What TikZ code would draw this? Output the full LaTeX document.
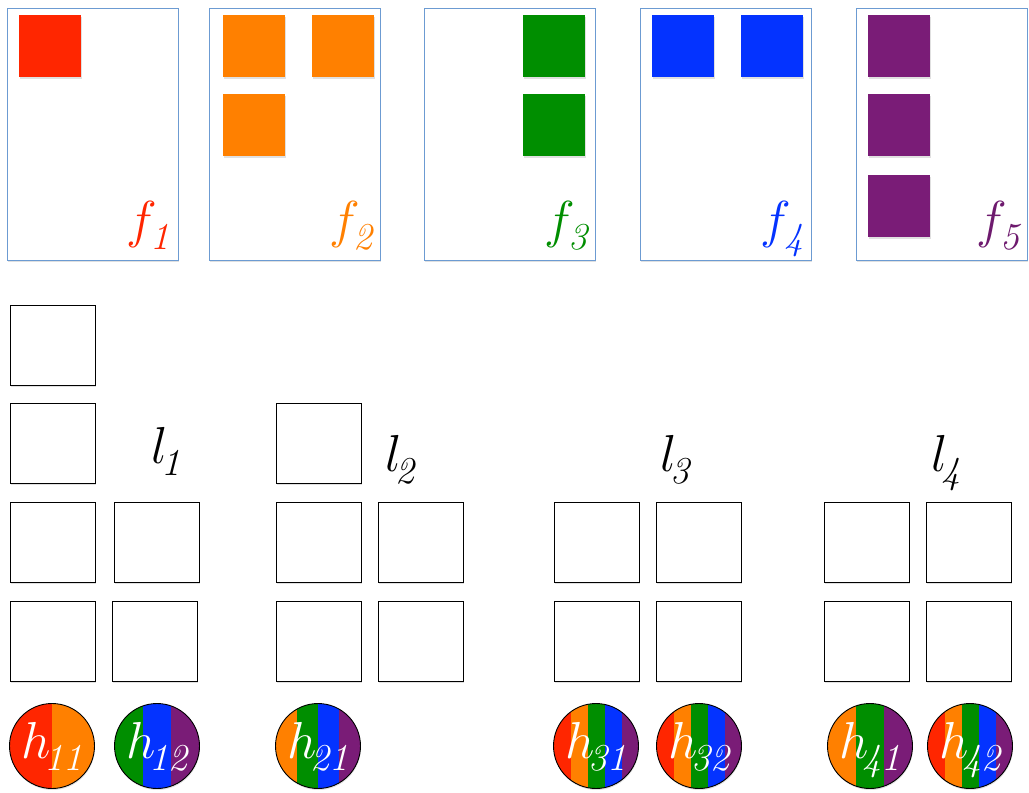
\RequirePackage{fix-cm}
\documentclass[tikz,border=0pt]{standalone}
\usetikzlibrary{shadows}
\definecolor{fred}{HTML}{FF2600}
\definecolor{forange}{HTML}{FF8000}
\definecolor{fgreen}{HTML}{008E00}
\definecolor{fblue}{HTML}{0433FF}
\definecolor{fpurple}{HTML}{7A1C77}
\definecolor{tpurple}{HTML}{6E1A6E}
\definecolor{panelblue}{HTML}{6C9BD2}
\newcommand{\lab}[2]{\fontsize{52}{52}\selectfont$#1$\kern-6pt\raisebox{-12pt}{\fontsize{38}{38}\selectfont\itshape #2}}
\tikzset{
	softshadow/.style={drop shadow={shadow xshift=0.5pt,shadow yshift=-1.5pt,fill=black,opacity=0.12}},
	panel/.style={draw=panelblue,line width=1pt,fill=white,minimum width=171pt,minimum height=252pt,inner sep=0pt,softshadow},
	tile/.style={fill=#1,minimum size=62pt,inner sep=0pt,softshadow},
	slot/.style={draw=black,line width=0.8pt,fill=white,minimum width=85pt,minimum height=80pt,inner sep=0pt,softshadow},
	hub/.style n args={2}{circle,draw=black,line width=0.9pt,minimum size=85pt,inner sep=0pt,softshadow,
		path picture={\foreach \c [count=\i] in {#2}
			\fill[\c] ([xshift={(\i-1)*85/#1}]path picture bounding box.south west) rectangle ([xshift={\i*85/#1}]path picture bounding box.north west);}},
	txt/.style={text=#1,inner sep=0pt,anchor=base west}
}
\begin{document}
\begin{tikzpicture}[x=1pt,y=-1pt]
	\useasboundingbox (0,0) rectangle (1029,793);
	\node[panel] (p1) at (92.5,134) {};
	\node[panel] (p2) at (294.5,134) {};
	\node[panel] (p3) at (509.5,134) {};
	\node[panel] (p4) at (725.5,134) {};
	\node[panel] (p5) at (941.5,134) {};
	\node[tile=fred] (r1) at (50,46) {};
	\node[tile=forange] (o1) at (254,46) {};
	\node[tile=forange] (o2) at (343,46) {};
	\node[tile=forange] (o3) at (254,125) {};
	\node[tile=fgreen] (g1) at (554,46) {};
	\node[tile=fgreen] (g2) at (554,125) {};
	\node[tile=fblue] (b1) at (683,46) {};
	\node[tile=fblue] (b2) at (772,46) {};
	\node[tile=fpurple] (v1) at (899,46) {};
	\node[tile=fpurple] (v2) at (899,125) {};
	\node[tile=fpurple] (v3) at (899,206) {};
	\node[txt=fred] (f1) at (126,237) {\lab{f}{1}};
	\node[txt=forange] (f2) at (329,237) {\lab{f}{2}};
	\node[txt=fgreen] (f3) at (544,237) {\lab{f}{3}};
	\node[txt=fblue] (f4) at (760,237) {\lab{f}{4}};
	\node[txt=tpurple] (f5) at (976,237) {\lab{f}{5}};
	\node[slot] (s11) at (52.5,345) {};
	\node[slot] (s12) at (52.5,443.5) {};
	\node[slot] (s13) at (52.5,542) {};
	\node[slot] (s14) at (52.5,641) {};
	\node[slot] (s15) at (156.5,542) {};
	\node[slot] (s16) at (154.5,641) {};
	\node[slot] (s21) at (318.5,443.5) {};
	\node[slot] (s22) at (318.5,542) {};
	\node[slot] (s23) at (318.5,641) {};
	\node[slot] (s24) at (420.5,542) {};
	\node[slot] (s25) at (420.5,641) {};
	\node[slot] (s31) at (596.5,542) {};
	\node[slot] (s32) at (596.5,641) {};
	\node[slot] (s33) at (698.5,542) {};
	\node[slot] (s34) at (698.5,641) {};
	\node[slot] (s41) at (866.5,542) {};
	\node[slot] (s42) at (866.5,641) {};
	\node[slot] (s43) at (969,542) {};
	\node[slot] (s44) at (969,641) {};
	\node[txt=black] (l1) at (151,463) {\lab{l}{1}};
	\node[txt=black] (l2) at (385,471) {\lab{l}{2}};
	\node[txt=black] (l3) at (660,471) {\lab{l}{3}};
	\node[txt=black] (l4) at (931,471) {\lab{l}{4}};
	\node[hub={2}{fred,forange}] (h11) at (52,746) {};
	\node[hub={3}{fgreen,fblue,fpurple}] (h12) at (157,746) {};
	\node[hub={4}{forange,fgreen,fblue,fpurple}] (h21) at (318,746) {};
	\node[hub={5}{fred,forange,fgreen,fblue,fpurple}] (h31) at (596,746) {};
	\node[hub={5}{fred,forange,fgreen,fblue,fpurple}] (h32) at (699,746) {};
	\node[hub={3}{forange,fgreen,fpurple}] (h41) at (870,746) {};
	\node[hub={5}{fred,forange,fgreen,fblue,fpurple}] (h42) at (970,746) {};
	\node[txt=white,anchor=base] (t11) at ([yshift=-12pt]h11.center) {\lab{h}{11}};
	\node[txt=white,anchor=base] (t12) at ([yshift=-12pt]h12.center) {\lab{h}{12}};
	\node[txt=white,anchor=base] (t21) at ([yshift=-12pt]h21.center) {\lab{h}{21}};
	\node[txt=white,anchor=base] (t31) at ([yshift=-12pt]h31.center) {\lab{h}{31}};
	\node[txt=white,anchor=base] (t32) at ([yshift=-12pt]h32.center) {\lab{h}{32}};
	\node[txt=white,anchor=base] (t41) at ([yshift=-12pt]h41.center) {\lab{h}{41}};
	\node[txt=white,anchor=base] (t42) at ([yshift=-12pt]h42.center) {\lab{h}{42}};
\end{tikzpicture}
\end{document}
